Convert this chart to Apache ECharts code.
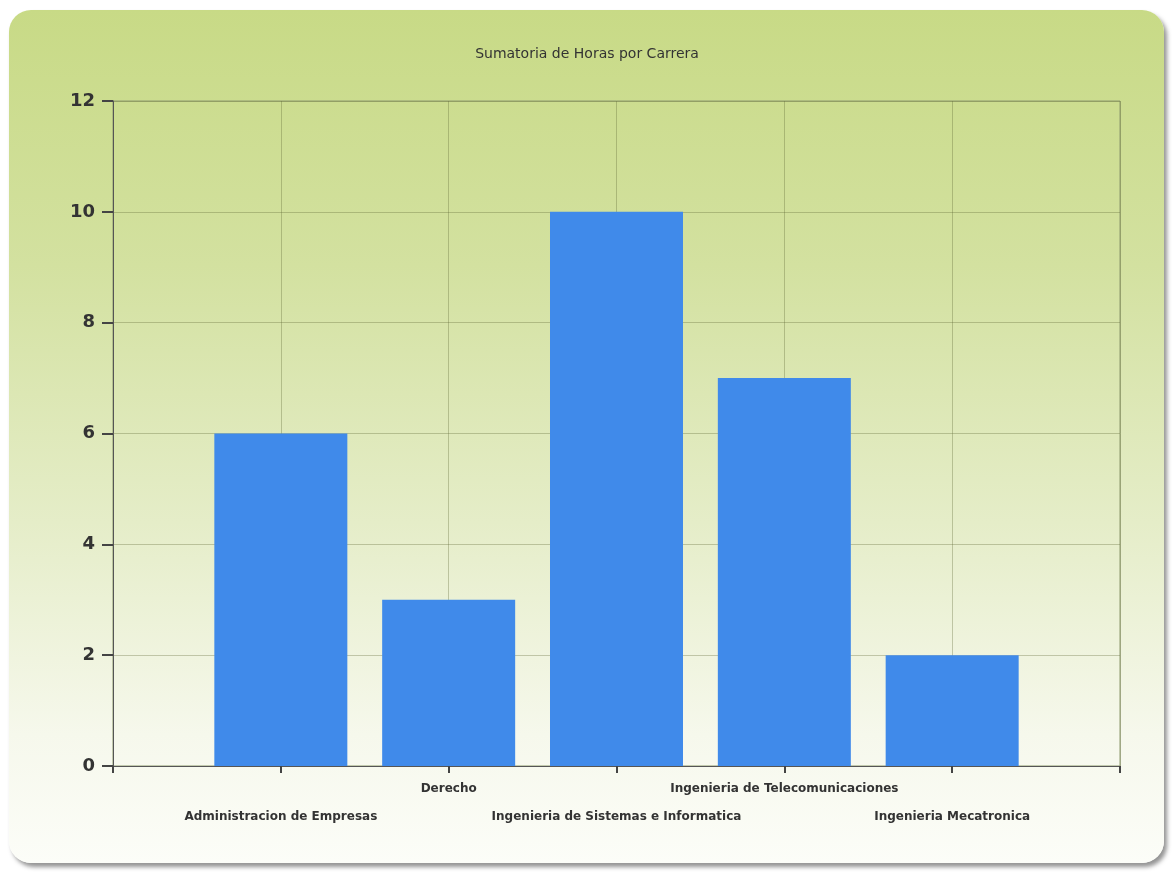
<!DOCTYPE html>
<html>
<head>
<meta charset="utf-8">
<script src="https://cdn.jsdelivr.net/npm/echarts@6/dist/echarts.min.js"></script>
<style>
  html, body { margin: 0; padding: 0; background: #ffffff; width: 1174px; height: 874px; overflow: hidden; }
  #panel {
    position: absolute; left: 9px; top: 10px; width: 1155px; height: 853px;
    border-radius: 22px;
    background: linear-gradient(to bottom, #c8da86 0%, #d3e1a0 30%, #e5edc8 60%, #f6f8ec 85%, #fcfdf8 100%);
    box-shadow: 3px 4px 4px rgba(60,60,60,0.55);
  }
  #chart { position: absolute; left: 0; top: 0; width: 1174px; height: 874px; }
</style>
</head>
<body>
<div id="panel"></div>
<div id="chart"></div>
<script>
const titleText = 'Sumatoria de Horas por Carrera';
const categories = ['Administracion de Empresas', 'Derecho', 'Ingenieria de Sistemas e Informatica', 'Ingenieria de Telecomunicaciones', 'Ingenieria Mecatronica'];
const values = [6, 3, 10, 7, 2];
const yTicks = [0, 2, 4, 6, 8, 10, 12];

const chart = echarts.init(document.getElementById('chart'));
const seriesData = values.map((v, i) => [i + 1, v]);

chart.setOption({
  backgroundColor: 'transparent',
  animation: false,
  title: {
    text: titleText,
    left: 'center',
    top: 42,
    textStyle: { fontFamily: 'DejaVu Sans', fontSize: 14, fontWeight: 'normal', color: '#333' }
  },
  grid: {
    left: 113, right: 54, top: 101, bottom: 108,
    show: true, borderColor: '#8e9a6e', borderWidth: 1, backgroundColor: 'transparent'
  },
  xAxis: {
    type: 'value',
    min: 0, max: categories.length + 1, interval: 1,
    axisLine: { show: true, lineStyle: { color: '#555', width: 1 } },
    axisTick: { show: true, length: 7, lineStyle: { color: '#444', width: 2 } },
    splitLine: { show: true, lineStyle: { color: 'rgba(90,100,50,0.32)', width: 1 } },
    axisLabel: {
      margin: 9,
      fontFamily: 'DejaVu Sans', fontSize: 12, fontWeight: 'bold', color: '#333',
      lineHeight: 28,
      formatter: function (v) {
        const i = Math.round(v) - 1;
        if (i < 0 || i >= categories.length) return '';
        return (i % 2 === 0) ? '\n' + categories[i] : categories[i];
      }
    }
  },
  yAxis: {
    type: 'value',
    min: yTicks[0], max: yTicks[yTicks.length - 1], interval: 2,
    axisLine: { show: true, lineStyle: { color: '#555', width: 1 } },
    axisTick: { show: true, length: 11, lineStyle: { color: '#444', width: 2 } },
    splitLine: { show: true, lineStyle: { color: 'rgba(90,100,50,0.32)', width: 1 } },
    axisLabel: {
      margin: 18,
      fontFamily: 'DejaVu Sans', fontSize: 18, fontWeight: 'bold', color: '#333'
    }
  },
  series: [{
    type: 'bar',
    data: seriesData,
    barWidth: 133,
    itemStyle: { color: '#408aea' }
  }]
});
</script>
</body>
</html>
